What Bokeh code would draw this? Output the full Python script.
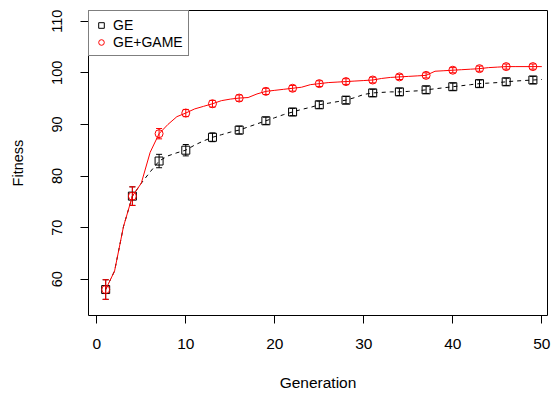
from bokeh.plotting import figure
from bokeh.models import (Range1d, FixedTicker, ColumnDataSource, Whisker,
                          TeeHead, Legend, LegendItem)
from bokeh.embed import file_html
from bokeh.resources import INLINE

# ---- data ----
generation = [1, 2, 3, 4, 5, 6, 7, 8, 9, 10,
              11, 12, 13, 14, 15, 16, 17, 18, 19, 20,
              21, 22, 23, 24, 25, 26, 27, 28, 29, 30,
              31, 32, 33, 34, 35, 36, 37, 38, 39, 40,
              41, 42, 43, 44, 45, 46, 47, 48, 49, 50]

ge = [58.0, 61.6, 70.2, 76.1, 78.6, 80.8, 82.9, 83.9, 84.5, 85.0,
      86.0, 86.8, 87.5, 88.0, 88.5, 88.9, 89.5, 90.1, 90.7, 91.3,
      91.9, 92.4, 92.9, 93.3, 93.8, 94.1, 94.4, 94.7, 95.2, 95.8,
      96.1, 96.2, 96.3, 96.3, 96.4, 96.5, 96.7, 96.9, 97.1, 97.3,
      97.5, 97.7, 97.9, 98.0, 98.1, 98.25, 98.4, 98.5, 98.6, 98.7]

ge_game = [58.0, 61.6, 70.2, 76.1, 78.6, 84.6, 88.2, 90.0, 91.5, 92.2,
           93.0, 93.5, 94.0, 94.6, 94.9, 95.1, 95.2, 95.9, 96.4, 96.6,
           96.8, 97.0, 97.2, 97.7, 97.9, 98.1, 98.2, 98.3, 98.4, 98.5,
           98.6, 98.9, 99.1, 99.2, 99.3, 99.4, 99.5, 100.3, 100.4, 100.5,
           100.6, 100.7, 100.8, 101.0, 101.1, 101.2, 101.2, 101.2, 101.2, 101.2]

# error half-widths at the marked generations (every 3rd, from generation 1)
ge_err = [1.9, 1.8, 1.3, 1.1, 0.85, 0.75, 0.7, 0.7, 0.7,
          0.7, 0.7, 0.7, 0.7, 0.7, 0.7, 0.7, 0.7]
ge_game_err = [1.9, 1.8, 1.0, 0.7, 0.65, 0.6, 0.6, 0.55, 0.55,
               0.55, 0.55, 0.5, 0.5, 0.5, 0.5, 0.5, 0.5]

x_ticks = [0, 10, 20, 30, 40, 50]
y_ticks = [60, 70, 80, 90, 100, 110]
series_labels = ["GE", "GE+GAME"]
mark_step = 3

FONT = "Liberation Sans"

p = figure(width=554, height=394, output_backend="svg", toolbar_location=None,
           x_range=Range1d(-0.93, 50.64), y_range=Range1d(52.97, 112.07),
           min_border_left=88, min_border_right=7,
           min_border_top=10, min_border_bottom=79)
p.grid.visible = False
p.outline_line_color = "black"
p.outline_line_width = 1
p.outline_line_alpha = 1.0
p.background_fill_color = "white"
p.border_fill_color = "white"

p.xaxis.ticker = FixedTicker(ticks=x_ticks)
p.yaxis.ticker = FixedTicker(ticks=y_ticks)
p.xaxis.axis_label = "Generation"
p.yaxis.axis_label = "Fitness"
for ax in (p.xaxis[0], p.yaxis[0]):
    ax.axis_line_color = None
    ax.major_tick_in = 0
    ax.major_tick_out = 8
    ax.major_tick_line_color = "black"
    ax.minor_tick_line_color = None
    ax.major_label_text_font = FONT
    ax.major_label_text_color = "black"
    ax.axis_label_text_font = FONT
    ax.axis_label_text_font_style = "normal"
    ax.axis_label_text_color = "black"

p.xaxis.major_label_text_font_size = "15.5px"
p.xaxis.axis_label_text_font_size = "15.5px"
p.xaxis.major_label_standoff = 15
p.xaxis.axis_label_standoff = 22

p.yaxis.major_label_text_font_size = "14.5px"
p.yaxis.axis_label_text_font_size = "14.5px"
p.yaxis.major_label_orientation = "vertical"
p.yaxis.major_label_standoff = 18
p.yaxis.axis_label_standoff = 24

# ---- GE (black, dashed) ----
mx = generation[::mark_step]
ge_m = ge[::mark_step]
gg_m = ge_game[::mark_step]

p.line(generation, ge, line_color="black", line_dash="4 4", line_width=1)
src_ge = ColumnDataSource(dict(x=mx, lo=[v - e for v, e in zip(ge_m, ge_err)],
                               hi=[v + e for v, e in zip(ge_m, ge_err)]))
p.add_layout(Whisker(source=src_ge, base="x", lower="lo", upper="hi",
                     line_color="black", line_width=1,
                     upper_head=TeeHead(size=6, line_color="black", line_width=1),
                     lower_head=TeeHead(size=6, line_color="black", line_width=1)))
r_ge = p.scatter(mx, ge_m, marker="square", size=8, fill_color=None,
                 line_color="black", line_width=1)

# ---- GE+GAME (red, solid) ----
p.line(generation, ge_game, line_color="red", line_width=1)
src_gg = ColumnDataSource(dict(x=mx, lo=[v - e for v, e in zip(gg_m, ge_game_err)],
                               hi=[v + e for v, e in zip(gg_m, ge_game_err)]))
p.add_layout(Whisker(source=src_gg, base="x", lower="lo", upper="hi",
                     line_color="red", line_width=1,
                     upper_head=TeeHead(size=6, line_color="red", line_width=1),
                     lower_head=TeeHead(size=6, line_color="red", line_width=1)))
r_gg = p.scatter(mx, gg_m, marker="circle", size=8, fill_color=None,
                 line_color="red", line_width=1)

legend = Legend(items=[LegendItem(label=series_labels[0], renderers=[r_ge]),
                       LegendItem(label=series_labels[1], renderers=[r_gg])],
                location="top_left", margin=0, padding=5, spacing=0,
                glyph_width=14, glyph_height=14, label_height=17,
                label_standoff=5, border_line_color="black", border_line_width=1,
                background_fill_color="white", background_fill_alpha=1.0,
                label_text_font=FONT, label_text_font_size="14px",
                label_text_color="black")
p.add_layout(legend)

open("out.html", "w").write(file_html(p, INLINE))
